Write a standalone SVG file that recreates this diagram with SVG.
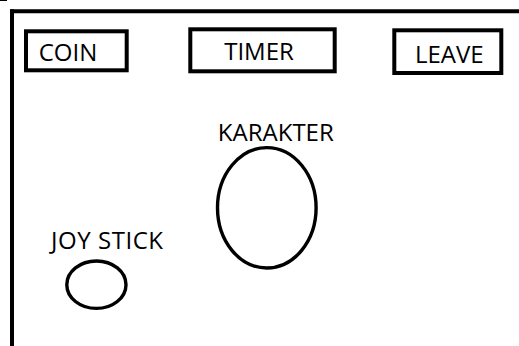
<svg xmlns="http://www.w3.org/2000/svg" width="519" height="346" viewBox="0 0 519 346">
<style>
.box{fill:#fff;stroke:#000;stroke-width:4}
.ell{fill:none;stroke:#000;stroke-width:3.4}
.lbl{font-family:"Open Sans","Liberation Sans",sans-serif;font-size:24px;fill:#000;text-anchor:middle}
.frame{stroke:#000;stroke-width:4;fill:none}
</style>
<rect width="519" height="346" fill="#fff"/>
<g id="frame">
<line class="frame" x1="10" y1="11.3" x2="519" y2="11.3"/>
<line class="frame" x1="12" y1="9.3" x2="12" y2="346"/>
<line x1="0" y1="0.5" x2="7" y2="0.5" stroke="#000" stroke-width="1"/>
</g>
<g id="coin">
<rect class="box" x="26" y="31.3" width="100.7" height="39"/>
<text class="lbl" x="68" y="60.7">COIN</text>
</g>
<g id="timer">
<rect class="box" x="190.3" y="29.3" width="144.4" height="42"/>
<text class="lbl" x="259" y="60">TIMER</text>
</g>
<g id="leave">
<rect class="box" x="394.3" y="30.3" width="107" height="42.7"/>
<text class="lbl" x="449.3" y="63.3">LEAVE</text>
</g>
<g id="karakter">
<text class="lbl" x="275.8" y="140.7">KARAKTER</text>
<ellipse class="ell" cx="266.8" cy="207.8" rx="49.3" ry="60.2"/>
</g>
<g id="joystick">
<text class="lbl" x="107" y="249.3" textLength="112" lengthAdjust="spacing">JOY STICK</text>
<ellipse class="ell" cx="96.4" cy="284.7" rx="29.6" ry="23.7"/>
</g>
</svg>
